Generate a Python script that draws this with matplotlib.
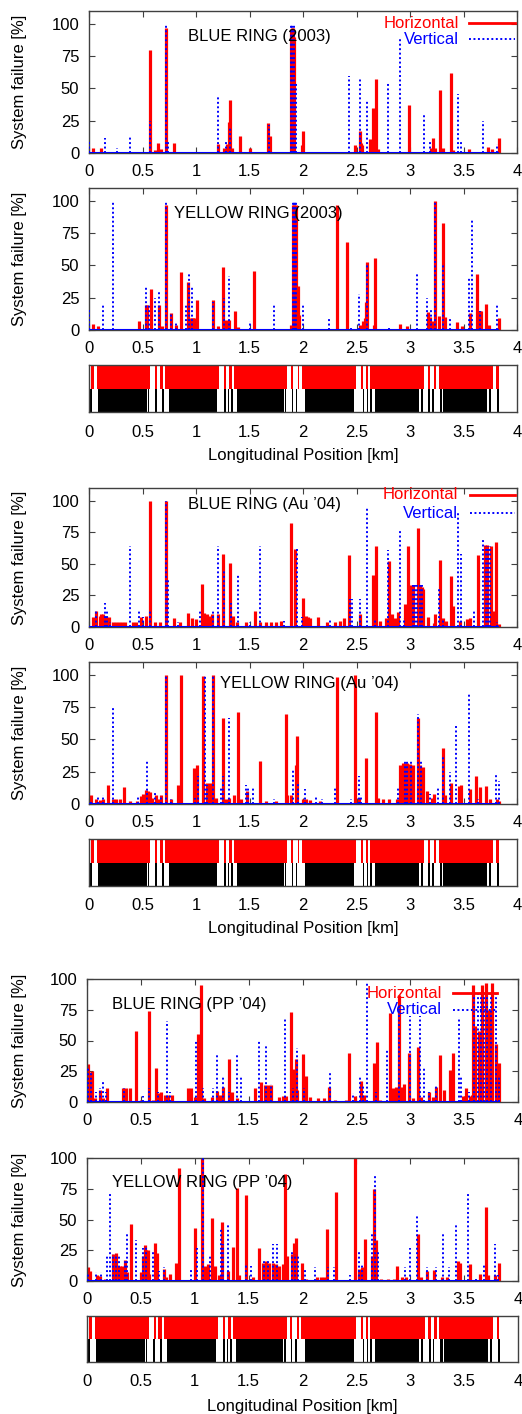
import numpy as np
import matplotlib.pyplot as plt

plt.rcParams['font.family'] = ['Liberation Sans', 'DejaVu Sans']
plt.rcParams['font.size'] = 12

# ---- failure spikes (position km, failure %) ----
blue03_h = [(0.04,4),(0.115,4),(0.25,1),(0.40,1),(0.57,80),(0.62,2),(0.645,8),(0.67,3),(0.718,97),(0.79,8),
            (0.85,1),(0.95,1),(1.05,1),(1.12,1),(1.21,7),(1.26,4),(1.29,7),(1.305,24),(1.315,41),(1.335,4),
            (1.41,13),(1.50,4),(1.55,1),(1.675,23),(1.69,13),(1.80,1),(1.885,96),(1.895,97),(1.905,97),(1.915,90),
            (1.99,6),(2.0,17),(2.05,1),(2.15,1),(2.25,1),(2.35,1),(2.49,6),(2.53,17),(2.545,8),(2.555,6),
            (2.63,11),(2.655,35),(2.68,57),(2.70,3),(2.80,1),(2.99,37),(3.05,1),(3.20,4),(3.215,12),(3.23,4),
            (3.28,49),(3.31,4),(3.38,62),(3.40,2),(3.55,3),(3.60,1),(3.73,5),(3.77,3),(3.83,12)]
blue03_v = [(0.0,10),(0.15,12),(0.26,4),(0.38,13),(0.41,1),(0.57,25),(0.72,100),(0.74,10),(1.21,43),(1.28,10),
            (1.32,19),(1.685,22),(1.885,100),(1.90,100),(1.915,100),(1.93,55),(2.43,60),(2.53,58),(2.60,41),
            (2.79,55),(2.91,88),(3.13,31),(3.19,10),(3.45,46),(3.48,10),(3.68,25),(3.81,7)]

yellow03_h = [(0.04,5),(0.085,3),(0.15,1),(0.3,1),(0.47,7),(0.535,19),(0.545,19),(0.575,32),(0.65,19),(0.68,3),
              (0.718,97),(0.765,13),(0.815,4),(0.86,45),(0.927,37),(0.945,9),(0.96,9),(0.975,9),(0.99,9),(1.01,23),
              (1.05,1),(1.16,23),(1.21,3),(1.254,49),(1.285,8),(1.31,8),(1.36,15),(1.395,2),(1.54,46),(1.6,1),
              (1.7,1),(1.8,1),(1.89,4),(1.91,97),(1.92,97),(1.93,97),(1.95,34),(1.96,12),(2.1,1),(2.2,1),
              (2.315,97),(2.41,68),(2.53,4),(2.56,7),(2.575,9),(2.588,22),(2.6,53),(2.66,4),(2.674,56),(2.8,1),
              (2.91,5),(2.97,3),(3.17,14),(3.19,10),(3.205,7),(3.235,100),(3.27,11),(3.31,83),(3.325,10),(3.44,6),
              (3.485,3),(3.56,13),(3.625,43),(3.65,15),(3.66,15),(3.71,20),(3.74,4),(3.83,9)]
yellow03_v = [(0.0,16),(0.13,19),(0.22,100),(0.537,34),(0.56,19),(0.615,25),(0.652,30),(0.718,100),(0.77,13),
              (0.815,6),(0.91,19),(0.933,43),(0.96,33),(1.16,22),(1.26,25),(1.307,42),(1.5,7),(1.73,19),
              (1.905,100),(1.915,100),(1.925,100),(1.935,100),(2.0,19),(2.24,10),(2.45,2),(2.52,28),(2.6,50),
              (2.8,3),(3.07,43),(3.157,25),(3.2,16),(3.235,100),(3.305,50),(3.375,10),(3.55,40),(3.58,85),
              (3.655,15),(3.81,19)]

blueau_h = [(0.037,8),(0.07,13),(0.1,9),(0.115,10),(0.13,10),(0.16,9),(0.19,8),(0.22,4),(0.25,4),(0.28,4),
            (0.31,4),(0.34,4),(0.41,4),(0.44,4),(0.49,8),(0.53,9),(0.567,100),(0.615,4),(0.66,4),(0.718,100),
            (0.79,7),(0.85,4),(0.927,11),(0.967,7),(0.998,6),(1.055,34),(1.075,11),(1.1,10),(1.125,9),(1.145,10),
            (1.21,10),(1.254,58),(1.317,51),(1.35,9),(1.38,4),(1.47,4),(1.55,13),(1.6,4),(1.65,4),(1.7,4),
            (1.75,4),(1.79,5),(1.885,82),(1.925,62),(1.997,23),(2.03,9),(2.05,8),(2.07,7),(2.14,8),(2.22,4),
            (2.3,4),(2.35,5),(2.38,7),(2.43,57),(2.53,10),(2.65,41),(2.683,64),(2.72,5),(2.78,7),(2.8,52),
            (2.83,10),(2.86,7),(2.89,12),(2.95,18),(2.977,64),(3.01,33),(3.03,33),(3.073,78),(3.095,33),(3.11,32),
            (3.125,30),(3.17,8),(3.22,3),(3.235,10),(3.282,53),(3.31,7),(3.34,5),(3.38,40),(3.40,17),(3.47,5),
            (3.53,6),(3.56,7),(3.64,57),(3.70,65),(3.72,65),(3.757,64),(3.775,13),(3.80,67),(3.83,2)]
blueau_v = [(0.07,13),(0.147,19),(0.17,13),(0.2,4),(0.38,64),(0.47,13),(0.505,8),(0.574,13),(0.718,100),
            (0.74,38),(0.835,4),(1.036,13),(1.155,13),(1.208,64),(1.26,44),(1.326,19),(1.395,42),(1.5,4),
            (1.6,64),(1.82,5),(1.947,62),(1.99,8),(2.25,6),(2.44,22),(2.455,22),(2.53,22),(2.596,94),(2.675,6),
            (2.79,61),(2.91,76),(2.94,7),(3.03,33),(3.05,33),(3.07,33),(3.09,33),(3.11,33),(3.27,30),(3.31,7),
            (3.45,90),(3.48,58),(3.6,13),(3.68,70),(3.71,64),(3.73,64),(3.75,64),(3.81,4)]

yellowau_h = [(0.02,7),(0.07,4),(0.1,3),(0.13,4),(0.178,15),(0.225,4),(0.255,4),(0.287,4),(0.325,13),(0.38,2),
              (0.45,2),(0.49,6),(0.505,8),(0.53,11),(0.55,10),(0.567,9),(0.585,5),(0.625,7),(0.645,4),(0.676,7),
              (0.718,100),(0.77,4),(0.833,15),(0.864,100),(0.98,28),(1.005,30),(1.067,99),(1.1,16),(1.13,16),
              (1.15,15),(1.16,100),(1.185,5),(1.254,67),(1.28,4),(1.31,5),(1.355,7),(1.395,71),(1.425,4),(1.48,10),
              (1.597,33),(1.65,2),(1.75,2),(1.84,70),(1.855,7),(1.885,7),(1.93,30),(1.947,53),(2.0,4),(2.03,4),
              (2.065,3),(2.16,2),(2.315,98),(2.487,100),(2.527,5),(2.587,36),(2.683,71),(2.705,5),(2.75,4),(2.8,4),
              (2.875,4),(2.91,30),(2.93,32),(2.95,32),(2.97,32),(3.0,31),(3.03,30),(3.073,67),(3.095,30),(3.125,29),
              (3.157,10),(3.21,5),(3.225,8),(3.307,43),(3.33,7),(3.38,16),(3.455,14),(3.48,15),(3.565,12),(3.62,22),
              (3.655,13),(3.71,14),(3.75,4),(3.81,4),(3.835,2)]
yellowau_v = [(0.02,3),(0.085,6),(0.13,7),(0.22,76),(0.46,6),(0.546,34),(0.615,9),(0.676,7),(0.718,100),(0.77,4),
              (0.99,5),(1.02,22),(1.08,100),(1.1,15),(1.16,100),(1.23,13),(1.254,22),(1.307,67),(1.467,15),(1.49,13),
              (1.53,13),(1.73,4),(1.91,26),(1.95,16),(2.02,12),(2.12,6),(2.18,4),(2.3,13),(2.45,4),(2.52,22),
              (2.545,7),(2.89,13),(2.95,34),(2.97,34),(3.01,34),(3.073,70),(3.105,33),(3.19,8),(3.265,13),(3.31,37),
              (3.375,25),(3.43,61),(3.55,85),(3.64,4),(3.80,23),(3.83,18)]

bluepp_h = [(0.01,31),(0.03,24),(0.05,25),(0.07,3),(0.118,10),(0.15,3),(0.186,11),(0.25,1),(0.3,1),(0.334,11),
            (0.358,11),(0.40,11),(0.458,58),(0.5,2),(0.572,74),(0.612,2),(0.637,28),(0.658,7),(0.683,8),(0.72,6),
            (0.75,6),(0.79,6),(0.85,1),(0.937,11),(0.968,11),(1.0,4),(1.027,55),(1.055,95),(1.09,3),(1.16,4),
            (1.21,9),(1.23,6),(1.26,12),(1.32,35),(1.35,8),(1.39,3),(1.556,11),(1.618,16),(1.65,14),(1.68,14),
            (1.71,14),(1.78,4),(1.82,5),(1.85,5),(1.89,73),(1.91,27),(1.937,35),(1.95,10),(2.005,39),(2.036,21),
            (2.065,4),(2.14,3),(2.2,3),(2.246,12),(2.3,2),(2.4,2),(2.43,40),(2.49,5),(2.546,17),(2.57,6),
            (2.66,32),(2.688,49),(2.72,2),(2.81,72),(2.84,11),(2.865,12),(2.892,87),(2.915,12),(2.946,15),(2.985,40),
            (3.025,3),(3.07,45),(3.1,4),(3.178,8),(3.21,4),(3.24,12),(3.28,38),(3.31,10),(3.372,26),(3.40,40),
            (3.487,5),(3.518,11),(3.555,5),(3.573,6),(3.58,95),(3.604,62),(3.64,58),(3.663,95),(3.703,97),(3.728,75),
            (3.758,97),(3.795,47),(3.826,32)]
bluepp_v = [(0.01,28),(0.04,25),(0.087,8),(0.118,11),(0.148,17),(0.18,8),(0.34,11),(0.52,5),(0.58,11),(0.658,8),
            (0.745,66),(0.766,8),(1.015,50),(1.073,11),(1.17,11),(1.21,40),(1.26,21),(1.32,8),(1.395,40),(1.43,21),
            (1.6,50),(1.664,46),(1.71,15),(1.84,68),(1.91,11),(1.952,44),(2.01,11),(2.258,25),(2.47,7),(2.537,21),
            (2.56,14),(2.602,97),(2.68,8),(2.787,43),(2.9,80),(2.995,70),(3.088,70),(3.128,28),(3.178,8),(3.24,13),
            (3.45,69),(3.47,21),(3.543,8),(3.595,88),(3.626,88),(3.657,90),(3.688,90),(3.71,90),(3.75,90),(3.796,88),
            (3.82,21)]

yellowpp_h = [(0.01,11),(0.025,8),(0.09,5),(0.12,4),(0.164,2),(0.24,22),(0.265,23),(0.287,12),(0.309,12),(0.327,12),
              (0.349,17),(0.374,7),(0.41,46),(0.46,1),(0.503,7),(0.519,20),(0.534,29),(0.55,25),(0.565,25),(0.58,6),
              (0.633,31),(0.648,23),(0.713,10),(0.735,3),(0.772,6),(0.827,15),(0.858,92),(0.92,1),(1.006,43),(1.068,100),
              (1.096,12),(1.127,14),(1.16,51),(1.188,12),(1.228,5),(1.253,48),(1.306,8),(1.352,28),(1.39,76),(1.414,5),
              (1.475,70),(1.537,3),(1.6,27),(1.63,15),(1.66,16),(1.69,15),(1.722,15),(1.753,14),(1.784,12),(1.815,14),
              (1.836,87),(1.852,20),(1.907,22),(1.92,31),(1.944,35),(1.994,15),(2.03,2),(2.139,3),(2.17,3),(2.2,3),
              (2.225,42),(2.31,72),(2.355,1),(2.488,100),(2.525,10),(2.556,11),(2.58,34),(2.648,20),(2.665,75),(2.68,33),
              (2.73,2),(2.79,2),(2.85,2),(2.874,12),(2.926,3),(2.957,3),(3.07,38),(3.096,3),(3.157,8),(3.22,9),
              (3.296,3),(3.342,3),(3.441,16),(3.466,15),(3.559,14),(3.645,6),(3.70,60),(3.725,5),(3.79,5),(3.821,15)]
yellowpp_v = [(0.01,7),(0.086,7),(0.133,7),(0.185,21),(0.216,71),(0.24,22),(0.265,22),(0.296,21),(0.349,17),(0.37,40),
              (0.457,33),(0.52,27),(0.543,28),(0.617,24),(0.667,8),(0.713,11),(0.966,10),(1.022,27),(1.08,100),(1.142,21),
              (1.246,43),(1.259,30),(1.309,46),(1.475,14),(1.52,12),(1.645,17),(1.676,17),(1.722,30),(1.759,30),(1.907,24),
              (1.929,22),(1.954,21),(2.022,10),(2.114,11),(2.238,11),(2.293,11),(2.441,5),(2.52,24),(2.55,13),(2.648,39),
              (2.67,85),(2.7,24),(2.947,11),(3.0,27),(3.065,53),(3.157,11),(3.235,11),(3.302,39),(3.364,11),(3.42,47),
              (3.54,72),(3.608,2),(3.688,14),(3.79,30),(3.815,5)]

# ---- lattice strip (km) ----
red_lo = [0.022,0.075,0.621,0.661,0.714,1.26,1.31,1.354,1.885,1.95,1.99,2.543,2.587,2.627,3.167,3.22,3.27,3.807]
red_hi = [0.044,0.574,0.640,0.693,1.214,1.285,1.332,1.853,1.903,1.966,2.493,2.565,2.605,3.133,3.189,3.245,3.772,3.828]
blk_lo = [0.0,0.087,0.55,0.617,0.68,0.745,1.19,1.26,1.30,1.33,1.385,1.83,1.895,1.93,2.02,2.47,2.56,2.60,2.63,2.67,
          3.10,3.17,3.21,3.28,3.31,3.74,3.81]
blk_hi = [0.025,0.54,0.56,0.633,0.70,1.185,1.20,1.285,1.31,1.345,1.82,1.845,1.905,1.945,2.47,2.48,2.57,2.61,2.645,
          3.08,3.12,3.19,3.225,3.30,3.72,3.76,3.835]

xticks = [0, 0.5, 1, 1.5, 2, 2.5, 3, 3.5, 4]
xticklabels = ['0', '0.5', '1', '1.5', '2', '2.5', '3', '3.5', '4']
yticks = [0, 25, 50, 75, 100]

W, H = 522, 1414
fig = plt.figure(figsize=(W / 100, H / 100), dpi=100)
FRAME = '#404040'


def add_ax(l, t, r, b):
    return fig.add_axes([l / W, 1 - b / H, (r - l) / W, (b - t) / H])


def frame(ax):
    for s in ax.spines.values():
        s.set_color(FRAME)
        s.set_linewidth(1.0)
    ax.set_xlim(0, 4)
    ax.set_xticks(xticks)
    ax.set_xticklabels(xticklabels)


def spike_panel(box, hdat, vdat, ytop, title, tpos, legend=None):
    ax = add_ax(*box)
    hx, hy = np.array(hdat).T
    vx, vy = np.array(vdat).T
    ax.vlines(hx, 0, hy, colors='#ff0000', lw=2.3, zorder=2)
    ax.vlines(vx, 0, vy, colors='#0000ff', lw=1.4, linestyles=(0, (1, 1.3)), zorder=3)
    ax.hlines(0, 0, max(hx.max(), vx.max()), colors='#0000ff', lw=1.5, zorder=3)
    frame(ax)
    ax.set_ylim(0, ytop)
    ax.set_yticks(yticks)
    ax.tick_params(direction='in', length=4, top=True, right=True, color=FRAME, pad=7)
    ax.tick_params(axis='x', pad=8)
    ax.text(tpos[0], tpos[1], title, transform=ax.transAxes, ha='center', va='center')
    l, t, r, b = box
    fig.text(20 / W, 1 - (t + b) / 2 / H, 'System failure [%]', rotation=90, ha='center', va='center')
    if legend:
        tx, y1, y2, lx0, lx1 = legend
        ax.text(tx, y1, 'Horizontal', color='#ff0000', transform=ax.transAxes, ha='right', va='center')
        ax.text(tx, y2, 'Vertical', color='#0000ff', transform=ax.transAxes, ha='right', va='center')
        ax.plot([lx0, lx1], [y1, y1], color='#ff0000', lw=2, transform=ax.transAxes, clip_on=False, zorder=5)
        ax.plot([lx0, lx1], [y2, y2], color='#0000ff', lw=1.4, ls=(0, (1, 1.3)),
                transform=ax.transAxes, clip_on=False, zorder=5)
    return ax


def strip(box, label_y):
    ax = add_ax(*box)
    ax.broken_barh([(a, b - a) for a, b in zip(red_lo, red_hi)], (0.5, 0.5), facecolors='#ff0000')
    ax.broken_barh([(a, b - a) for a, b in zip(blk_lo, blk_hi)], (0.0, 0.5), facecolors='#000000')
    frame(ax)
    ax.set_ylim(0, 1)
    ax.set_yticks([])
    ax.tick_params(length=0, pad=9)
    l, t, r, b = box
    fig.text((l + r) / 2 / W, 1 - label_y / H, 'Longitudinal Position [km]', ha='center', va='center')


spike_panel((89, 11, 517, 153), blue03_h, blue03_v, 110, 'BLUE RING (2003)', (0.397, 0.82),
            legend=(0.864, 0.915, 0.80, 0.888, 0.995))
spike_panel((89, 188, 517, 330), yellow03_h, yellow03_v, 110, 'YELLOW RING (2003)', (0.396, 0.82))
strip((89, 365, 517, 412), 455)

spike_panel((89, 488, 517, 627), blueau_h, blueau_v, 110, 'BLUE RING (Au \u201904)', (0.41, 0.88),
            legend=(0.862, 0.95, 0.82, 0.89, 0.995))
spike_panel((89, 662, 517, 804), yellowau_h, yellowau_v, 110, 'YELLOW RING (Au \u201904)', (0.514, 0.85))
strip((89, 839, 517, 886), 928)

spike_panel((87, 979, 518, 1102), bluepp_h, bluepp_v, 100, 'BLUE RING (PP \u201904)', (0.237, 0.79),
            legend=(0.824, 0.886, 0.748, 0.849, 0.951))
spike_panel((87, 1158, 518, 1281), yellowpp_h, yellowpp_v, 100, 'YELLOW RING (PP \u201904)', (0.267, 0.80))
strip((87, 1316, 518, 1362), 1407)

fig.savefig('out.png', dpi=100)
